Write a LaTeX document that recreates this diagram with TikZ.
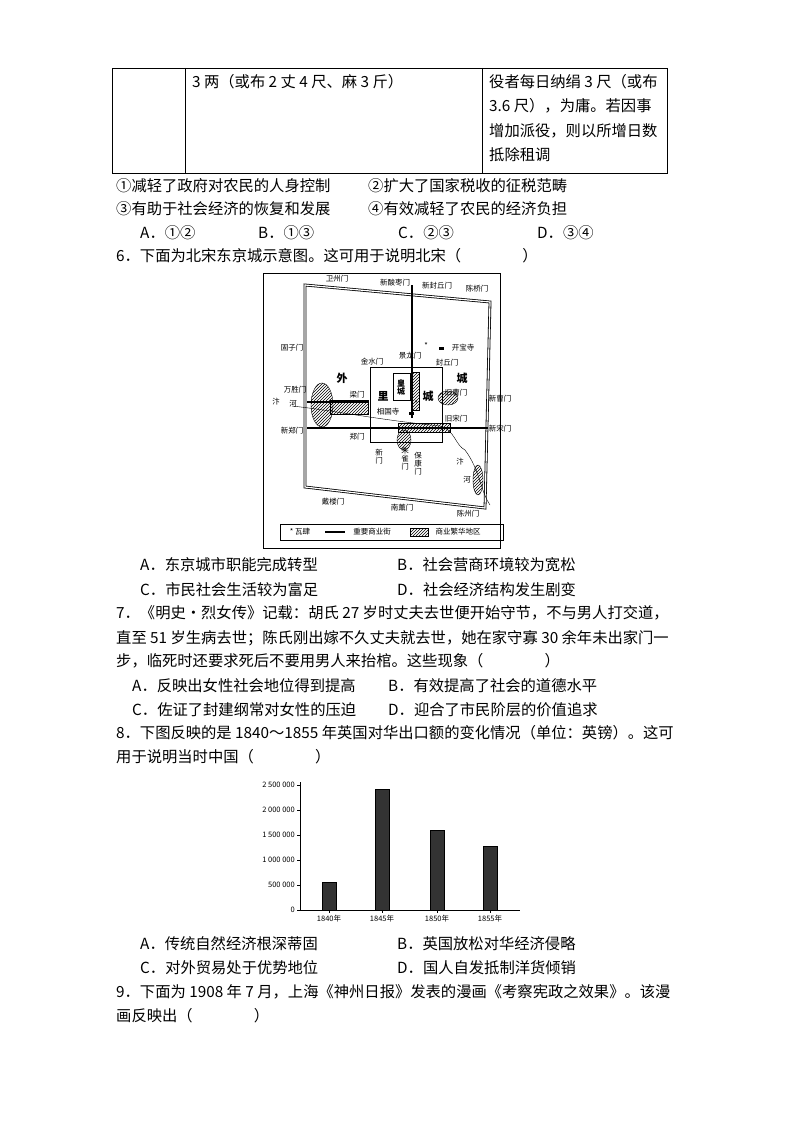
\documentclass[tikz,border=0pt]{standalone}
\usepackage{fontspec}
\setmainfont{Noto Sans CJK SC}
\usetikzlibrary{patterns}
\begin{document}
\begin{tikzpicture}[x=1pt,y=-1pt,
  tx/.style={anchor=west,inner sep=0pt,font=\fontsize{15.3}{16}\selectfont},
  ml/.style={inner sep=0pt,font=\fontsize{7.5}{8}\selectfont},
  big/.style={inner sep=0pt,font=\fontsize{11}{12}\selectfont\bfseries},
  street/.style={line width=2pt},
  hat/.style={pattern=north east lines},
  tmp/.style={fill=black,minimum width=5pt,minimum height=3pt,inner sep=0pt},
  bar/.style={fill=black!80,draw=black}]
\useasboundingbox (0,0) rectangle (793,1123);
% table
\draw (112,68) rectangle (667,173);
\draw (185,68)--(185,173) (482,68)--(482,173);
\node[tx] (t1) at (192,82) {3 两（或布 2 丈 4 尺、麻 3 斤）};
\node[tx] (t2) at (489,82) {役者每日纳绢 3 尺（或布};
\node[tx] (t3) at (489,106) {3.6 尺），为庸。若因事};
\node[tx] (t4) at (489,131) {增加派役，则以所增日数};
\node[tx] (t5) at (489,155) {抵除租调};
\node[tx] (o1) at (116,186) {①减轻了政府对农民的人身控制};
\node[tx] (o2) at (368,186) {②扩大了国家税收的征税范畴};
\node[tx] (o3) at (116,209) {③有助于社会经济的恢复和发展};
\node[tx] (o4) at (368,209) {④有效减轻了农民的经济负担};
\node[tx] (a5) at (140,233) {A．①②};
\node[tx] (b5) at (258,233) {B．①③};
\node[tx] (c5) at (398,233) {C．②③};
\node[tx] (d5) at (537,233) {D．③④};
\node[tx] (q6) at (116,256) {6．下面为北宋东京城示意图。这可用于说明北宋（\hspace{4em}）};
% map
\draw (263,273) rectangle (500,548);
\draw[double,double distance=1.2pt,line width=0.8pt] (305,285)--(490,302)--(485,508)--(305,487)--cycle;
\draw[thick] (370,367) rectangle (442,442);
\draw[thick] (393,373) rectangle (410,400);
\draw[hat] (322,405) ellipse (11 and 22);
\draw[hat] (330,400) rectangle (368,414);
\draw[hat] (412,372) rectangle (419,410);
\draw[hat] (448,398) ellipse (10 and 7);
\draw[hat] (398,423) rectangle (450,432);
\draw[hat] (404,440) ellipse (7 and 10);
\draw[hat] (478,480) ellipse (5 and 15);
\draw (292,406)..controls (330,410) and (380,420)..(440,426)..controls (455,430) and (455,445)..(465,450)..controls (480,470) and (480,490)..(490,505);
\draw[street] (412,285)--(412,418);
\draw[street] (307,402)--(368,402);
\draw[street] (307,428)--(488,428);
\node[ml] at (337,279) {卫州门};
\node[ml] at (395,283) {新酸枣门};
\node[ml] at (437,286) {新封丘门};
\node[ml] at (477,289) {陈桥门};
\node[ml] at (292,348) {固子门};
\node[tmp] (kb) at (441,348) {};
\node[ml] at (463,348) {开宝寺};
\node[ml] at (426,346) {*};
\node[ml] at (410,356) {景龙门};
\node[ml] at (372,362) {金水门};
\node[ml] at (447,363) {封丘门};
\node[big] at (342,378) {外};
\node[big] at (462,378) {城};
\node[ml,font=\fontsize{8}{8}\selectfont\bfseries,align=center] at (401,387) {皇\\城};
\node[big] at (383,396) {里};
\node[big] at (428,396) {城};
\node[ml] at (295,390) {万胜门};
\node[ml] at (456,393) {旧曹门};
\node[ml] at (500,399) {新曹门};
\node[ml] at (357,395) {梁门};
\node[ml] at (276,402) {汴};
\node[ml] at (293,404) {河};
\node[ml] at (388,412) {相国寺};
\node[tmp] (xg) at (411,413) {};
\node[ml] at (416,404) {*};
\node[ml] at (456,419) {旧宋门};
\node[ml] at (292,431) {新郑门};
\node[ml] at (500,429) {新宋门};
\node[ml] at (357,437) {郑门};
\node[ml,align=center] at (379,457) {新\\门};
\node[ml,align=center] at (405,459) {朱\\雀\\门};
\node[ml,align=center] at (418,464) {保\\康\\门};
\node[ml] at (460,462) {汴};
\node[ml] at (467,480) {河};
\node[ml] at (333,502) {戴楼门};
\node[ml] at (402,508) {南薰门};
\node[ml] at (468,514) {陈州门};
\draw (280,524) rectangle (503,540);
\node[ml] at (300,532) {* 瓦肆};
\draw[street] (325,532)--(345,532);
\node[ml] at (372,532) {重要商业街};
\draw[hat] (410,528) rectangle (428,536);
\node[ml] at (458,532) {商业繁华地区};
\node[tx] (a6) at (140,565) {A．东京城市职能完成转型};
\node[tx] (b6) at (397,565) {B．社会营商环境较为宽松};
\node[tx] (c6) at (140,590) {C．市民社会生活较为富足};
\node[tx] (d6) at (397,590) {D．社会经济结构发生剧变};
\node[tx] (q7a) at (116,613) {7．《明史·烈女传》记载：胡氏 27 岁时丈夫去世便开始守节，不与男人打交道，};
\node[tx] (q7b) at (116,638) {直至 51 岁生病去世；陈氏刚出嫁不久丈夫就去世，她在家守寡 30 余年未出家门一};
\node[tx] (q7c) at (116,661) {步，临死时还要求死后不要用男人来抬棺。这些现象（\hspace{4em}）};
\node[tx] (a7) at (132,686) {A．反映出女性社会地位得到提高};
\node[tx] (b7) at (388,686) {B．有效提高了社会的道德水平};
\node[tx] (c7) at (132,710) {C．佐证了封建纲常对女性的压迫};
\node[tx] (d7) at (388,710) {D．迎合了市民阶层的价值追求};
\node[tx] (q8a) at (116,733) {8．下图反映的是 1840～1855 年英国对华出口额的变化情况（单位：英镑）。这可};
\node[tx] (q8b) at (116,757) {用于说明当时中国（\hspace{4em}）};
% chart
\draw (300,782)--(300,910)--(520,910);
\foreach \v/\y in {2 500 000/785,2 000 000/810,1 500 000/835,1 000 000/860,500 000/885,0/910}{
  \draw (297,\y)--(300,\y);
  \node[ml,anchor=east] at (295,\y) {\v};}
\draw[bar] (322,882) rectangle (336,910);
\draw[bar] (375,789) rectangle (389,910);
\draw[bar] (430,830) rectangle (444,910);
\draw[bar] (483,846) rectangle (497,910);
\foreach \x/\t in {329/1840年,382/1845年,437/1850年,490/1855年}{
  \draw (\x,910)--(\x,913);
  \node[ml] at (\x,919) {\t};}
\node[tx] (a8) at (140,944) {A．传统自然经济根深蒂固};
\node[tx] (b8) at (397,944) {B．英国放松对华经济侵略};
\node[tx] (c8) at (140,968) {C．对外贸易处于优势地位};
\node[tx] (d8) at (397,968) {D．国人自发抵制洋货倾销};
\node[tx] (q9a) at (116,992) {9．下面为 1908 年 7 月，上海《神州日报》发表的漫画《考察宪政之效果》。该漫};
\node[tx] (q9b) at (116,1016) {画反映出（\hspace{4em}）};
\end{tikzpicture}
\end{document}
